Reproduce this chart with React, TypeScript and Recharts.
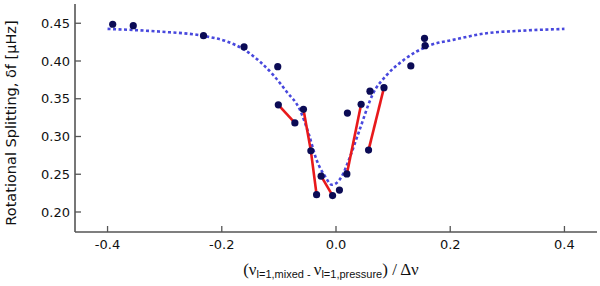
import { ComposedChart, Line, Scatter, XAxis, YAxis } from "recharts";

// model curve
const curveX = [-0.4, -0.31, -0.23, -0.19, -0.16, -0.133, -0.11, -0.086, -0.063, -0.048, -0.034, -0.019, -0.007, 0.01, 0.024, 0.04, 0.065, 0.089, 0.118, 0.165, 0.205, 0.264, 0.322, 0.4];
const curveY = [0.4425, 0.439, 0.433, 0.4256, 0.4146, 0.399, 0.3815, 0.359, 0.335, 0.304, 0.269, 0.247, 0.236, 0.247, 0.272, 0.306, 0.357, 0.3815, 0.401, 0.421, 0.428, 0.4368, 0.44, 0.4425];

// observed splittings
const obsX = [-0.391, -0.355, -0.232, -0.161, -0.102, -0.101, -0.072, -0.057, -0.044, -0.034, -0.026, -0.006, 0.006, 0.019, 0.02, 0.044, 0.057, 0.0595, 0.084, 0.131, 0.155, 0.156];
const obsY = [0.4487, 0.4468, 0.4336, 0.4186, 0.3925, 0.342, 0.318, 0.336, 0.281, 0.223, 0.2474, 0.2217, 0.229, 0.2504, 0.331, 0.3427, 0.282, 0.36, 0.3647, 0.3935, 0.43, 0.4203];

// red links between observed points (indices into obs arrays)
const links = [[5, 6], [7, 8, 9], [10, 11], [13, 15], [16, 18]];

const xTicks = [-0.4, -0.2, 0, 0.2, 0.4];
const yTicks = [0.2, 0.25, 0.3, 0.35, 0.4, 0.45];

const xDomain = [-0.457, 0.457];
const yDomain = [0.1735, 0.4755];

const curve = curveX.map((x, i) => ({ x, y: curveY[i] }));
const obs = obsX.map((x, i) => ({ x, y: obsY[i] }));

const AXIS = "#555";
const SANS = "'DejaVu Sans', Verdana, sans-serif";
const TS = 6; // recharts tickSize, labels are pushed out by this much
const TICK = 6;
const TW = 1.3;

const BottomTick = ({ x, y, payload }: any) => {
  const a = y - TS;
  return (
    <g>
      <line x1={x} y1={a} x2={x} y2={a - TICK} stroke={AXIS} strokeWidth={TW} />
      <text x={x} y={a + 16.5} textAnchor="middle" fontSize={13} fontFamily={SANS} fill="#111">
        {Number(payload.value).toFixed(1)}
      </text>
    </g>
  );
};

const TopTick = ({ x, y }: any) => (
  <line x1={x} y1={y + TS} x2={x} y2={y + TS + TICK} stroke={AXIS} strokeWidth={TW} />
);

const LeftTick = ({ x, y, payload }: any) => {
  const a = x + TS;
  return (
    <g>
      <line x1={a} y1={y} x2={a + TICK} y2={y} stroke={AXIS} strokeWidth={TW} />
      <text x={a - 5} y={y + 4.7} textAnchor="end" fontSize={13} fontFamily={SANS} fill="#111">
        {Number(payload.value).toFixed(2)}
      </text>
    </g>
  );
};

const RightTick = ({ x, y }: any) => (
  <line x1={x - TS} y1={y} x2={x - TS - TICK} y2={y} stroke={AXIS} strokeWidth={TW} />
);

const XTitle = () => (
  <text x={331} y={275} textAnchor="middle" fill="#111" fontFamily="'Liberation Serif', serif" fontSize={17}>
    <tspan>(ν</tspan>
    <tspan fontFamily="'Liberation Sans', Arial, sans-serif" fontSize={11} dy={2.5}>l=1,mixed - </tspan>
    <tspan dy={-2.5}>ν</tspan>
    <tspan fontFamily="'Liberation Sans', Arial, sans-serif" fontSize={11} dy={2.5}>l=1,pressure</tspan>
    <tspan dy={-2.5}>) / Δν</tspan>
  </text>
);

const YTitle = () => (
  <text transform="translate(15.5,123) rotate(-90)" textAnchor="middle" fontSize={14.5} fontFamily={SANS} fill="#111">
    Rotational Splitting, δf [μHz]
  </text>
);

const Dot = ({ cx, cy }: any) => <circle cx={cx} cy={cy} r={3.6} fill="#0b0b55" />;

const axisLine = { stroke: AXIS, strokeWidth: 1.6 };

export default function App() {
  return (
    <div style={{ width: 600, height: 286, background: "#fff" }}>
      <style>{`body{margin:0}`}</style>
      <ComposedChart width={600} height={286} margin={{ top: 4, right: 3, bottom: 0, left: 0 }}>
        <XAxis
          dataKey="x"
          type="number"
          domain={xDomain}
          ticks={xTicks}
          allowDataOverflow
          height={54}
          tickSize={TS}
          tickMargin={0}
          tickLine={false}
          tick={<BottomTick />}
          axisLine={axisLine}
          label={{ content: () => <XTitle /> }}
        />
        <XAxis
          xAxisId="top"
          orientation="top"
          dataKey="x"
          type="number"
          domain={xDomain}
          ticks={xTicks}
          allowDataOverflow
          height={0}
          tickSize={TS}
          tickMargin={0}
          tickLine={false}
          tick={<TopTick />}
          axisLine={axisLine}
        />
        <YAxis
          dataKey="y"
          type="number"
          domain={yDomain}
          ticks={yTicks}
          allowDataOverflow
          width={75}
          tickSize={TS}
          tickMargin={0}
          tickLine={false}
          tick={<LeftTick />}
          axisLine={axisLine}
          label={{ content: () => <YTitle /> }}
        />
        <YAxis
          yAxisId="right"
          orientation="right"
          dataKey="y"
          type="number"
          domain={yDomain}
          ticks={yTicks}
          allowDataOverflow
          width={0}
          tickSize={TS}
          tickMargin={0}
          tickLine={false}
          tick={<RightTick />}
          axisLine={axisLine}
        />
        <Line
          data={curve}
          dataKey="y"
          type="monotone"
          stroke="#4848dd"
          strokeWidth={2.6}
          strokeDasharray="3 2.5"
          dot={false}
          isAnimationActive={false}
        />
        {links.map((idx, k) => (
          <Line
            key={k}
            data={idx.map((i) => obs[i])}
            dataKey="y"
            type="linear"
            stroke="#e8191b"
            strokeWidth={2.6}
            dot={false}
            isAnimationActive={false}
          />
        ))}
        <Scatter data={obs} dataKey="y" shape={<Dot />} isAnimationActive={false} />
      </ComposedChart>
    </div>
  );
}
